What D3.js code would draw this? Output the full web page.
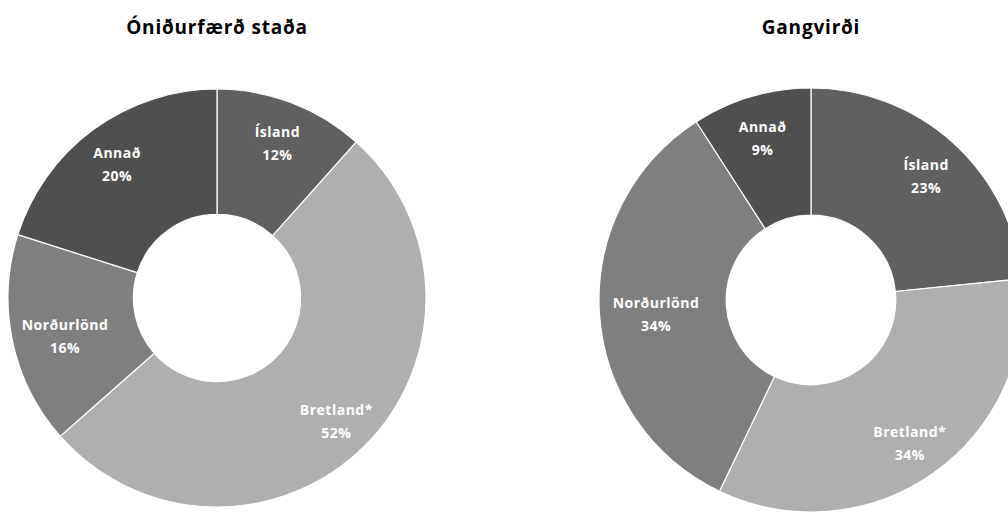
<!DOCTYPE html>
<html>
<head>
<meta charset="utf-8">
<script src="https://cdn.jsdelivr.net/npm/d3@7"></script>
<style>
  body { margin: 0; background: #fff; }
  svg { display: block; }
  text { font-family: "Open Sans", Lato, sans-serif; font-weight: bold; }
</style>
</head>
<body>
<div id="chart"></div>
<script>
// categories in drawing order, clockwise from 12 o'clock
var categories = ["Ísland", "Bretland*", "Norðurlönd", "Annað"];
var bookValues = [11.6, 51.9, 16.4, 20.1];   // Óniðurfærð staða
var fairValues = [23.4, 33.7, 33.8, 9.1];    // Gangvirði
var titles = ["Óniðurfærð staða", "Gangvirði"];

var dim = { width: 1008, height: 514 };

var charts = [
  { title: titles[0], values: bookValues, cx: 217, cy: 298, r: 209 },
  { title: titles[1], values: fairValues, cx: 811, cy: 300, r: 212 }
];

var color = d3.scaleOrdinal()
    .domain(categories)
    .range(["#606060", "#afafaf", "#7f7f7f", "#4f4f4f"]);

var svg = d3.select("#chart").append("svg")
    .attr("width", dim.width)
    .attr("height", dim.height);

var pie = d3.pie()
    .sort(null)
    .value(function(d) { return d.value; });

charts.forEach(function(c) {
  var data = categories.map(function(k, i) { return { key: k, value: c.values[i] }; });
  var arcs = pie(data);
  var arc = d3.arc().innerRadius(c.r * 0.4).outerRadius(c.r);
  var labelArc = d3.arc().innerRadius(c.r * 0.81).outerRadius(c.r * 0.81);

  svg.append("text")
      .attr("x", c.cx)
      .attr("y", 34)
      .attr("text-anchor", "middle")
      .style("font-size", "19px")
      .style("letter-spacing", "0.8px")
      .style("fill", "#000")
      .text(c.title);

  var g = svg.append("g")
      .attr("transform", "translate(" + c.cx + "," + c.cy + ")");

  g.selectAll("path.slice").data(arcs).enter()
    .append("path")
      .attr("class", "slice")
      .attr("d", arc)
      .attr("fill", function(d) { return color(d.data.key); })
      .attr("stroke", "#fff")
      .attr("stroke-width", 1.2);

  var labels = g.selectAll("g.label").data(arcs).enter()
    .append("g")
      .attr("class", "label")
      .attr("transform", function(d) {
        var p = labelArc.centroid(d);
        // keep wide labels inside the ring on the left side
        var half = d.data.key.length * 4.3;
        var minX = -c.r + half + 14;
        if (p[0] < minX) p[0] = minX;
        return "translate(" + p[0] + "," + (p[1] + 3) + ")";
      });

  labels.append("text")
      .attr("text-anchor", "middle")
      .attr("y", -6)
      .style("font-size", "14px")
      .style("letter-spacing", "0.5px")
      .style("fill", "#fff")
      .text(function(d) { return d.data.key; });

  labels.append("text")
      .attr("text-anchor", "middle")
      .attr("y", 17)
      .style("font-size", "14px")
      .style("letter-spacing", "0.5px")
      .style("fill", "#fff")
      .text(function(d) { return Math.round(d.data.value) + "%"; });
});
</script>
</body>
</html>
